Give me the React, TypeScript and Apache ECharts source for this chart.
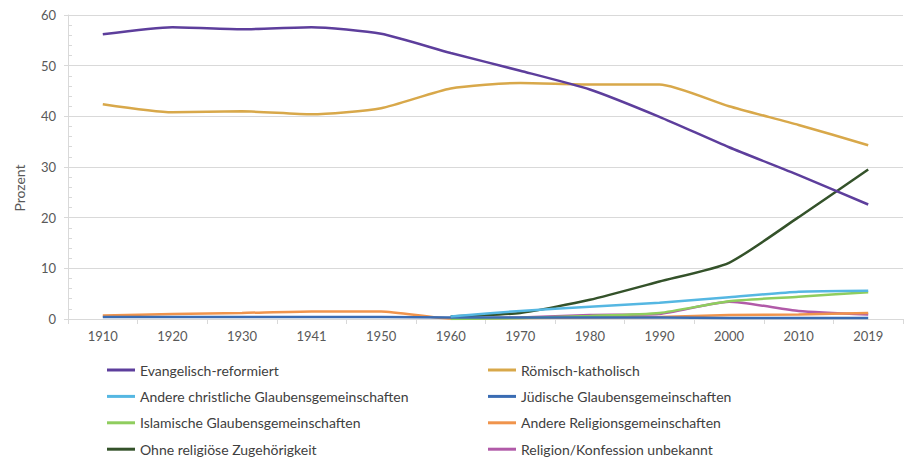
import React, { useEffect, useRef } from "react";
import * as echarts from "echarts";

const years = ["1910", "1920", "1930", "1941", "1950", "1960", "1970", "1980", "1990", "2000", "2010", "2019"];

const seriesNames = [
  "Evangelisch-reformiert",
  "Römisch-katholisch",
  "Andere christliche Glaubensgemeinschaften",
  "Jüdische Glaubensgemeinschaften",
  "Islamische Glaubensgemeinschaften",
  "Andere Religionsgemeinschaften",
  "Ohne religiöse Zugehörigkeit",
  "Religion/Konfession unbekannt",
];

const evangelisch = [56.2, 57.6, 57.2, 57.6, 56.3, 52.5, 49.0, 45.3, 39.9, 33.9, 28.4, 22.6];
const katholisch = [42.4, 40.8, 41.0, 40.4, 41.6, 45.5, 46.6, 46.3, 46.3, 42.0, 38.3, 34.3];
const andereChristlich = [null, null, null, null, null, 0.5, 1.6, 2.4, 3.2, 4.3, 5.4, 5.6];
const juedisch = [0.4, 0.4, 0.4, 0.4, 0.4, 0.3, 0.3, 0.3, 0.3, 0.2, 0.2, 0.2];
const islamisch = [null, null, null, null, null, 0.0, 0.2, 0.6, 1.2, 3.5, 4.4, 5.3];
const andereReligion = [0.7, 1.0, 1.2, 1.5, 1.5, 0.1, 0.2, 0.3, 0.4, 0.8, 0.9, 1.2];
const ohne = [null, null, null, null, null, 0.5, 1.2, 3.8, 7.4, 11.1, 20.1, 29.5];
const unbekannt = [null, null, null, null, null, 0.1, 0.3, 0.8, 1.0, 3.4, 1.6, 0.9];

const seriesData = [evangelisch, katholisch, andereChristlich, juedisch, islamisch, andereReligion, ohne, unbekannt];
const seriesColors = ["#5d3e9c", "#d8a84a", "#55b7e2", "#3a6cb3", "#8fcd5e", "#f0944c", "#34522a", "#b15aa8"];

const yTicks = { min: 0, max: 60, interval: 10 };

export default function App() {
  const ref = useRef<HTMLDivElement>(null);
  useEffect(() => {
    if (!ref.current) return;
    const chart = echarts.init(ref.current, undefined, { renderer: "svg" });
    const font = "Lato, 'Open Sans', sans-serif";
    const legendCommon = {
      orient: "vertical" as const,
      top: 362,
      height: 130,
      padding: 0,
      icon: "rect",
      itemWidth: 28,
      itemHeight: 3,
      itemGap: 10.4,
      textStyle: { fontFamily: font, fontSize: 14, color: "#404040", lineHeight: 16 },
      selectedMode: false,
    };
    chart.setOption({
      animation: false,
      backgroundColor: "#ffffff",
      grid: { left: 68, right: 4, top: 15, bottom: 141 },
      xAxis: {
        type: "category",
        data: years,
        boundaryGap: true,
        axisLine: { lineStyle: { color: "#d9d9d9", width: 1 } },
        axisTick: { show: true, length: 5, lineStyle: { color: "#d9d9d9" } },
        axisLabel: { fontFamily: font, fontSize: 13, color: "#595959", margin: 10 },
      },
      yAxis: [
        {
          type: "value",
          position: "left",
          min: yTicks.min,
          max: yTicks.max,
          interval: yTicks.interval,
          axisLine: { show: true, lineStyle: { color: "#d9d9d9" } },
          axisTick: { show: true, length: 4, lineStyle: { color: "#d9d9d9" } },
          axisLabel: { fontFamily: font, fontSize: 13, color: "#595959", margin: 12 },
          splitLine: { show: true, lineStyle: { color: "#d9d9d9", width: 1 } },
        },
        {
          type: "value",
          position: "left",
          min: yTicks.min,
          max: yTicks.max,
          interval: yTicks.interval,
          axisLine: { show: false },
          axisTick: { show: false, inside: true },
          axisLabel: { show: false },
          splitLine: { show: false },
          minorTick: { show: true, splitNumber: 5, length: 4, lineStyle: { color: "#d9d9d9" } },
        },
      ],
      legend: [
        { ...legendCommon, left: 107, data: [seriesNames[0], seriesNames[2], seriesNames[4], seriesNames[6]] },
        { ...legendCommon, left: 488, data: [seriesNames[1], seriesNames[3], seriesNames[5], seriesNames[7]] },
      ],
      graphic: [
        {
          type: "text",
          x: 12,
          y: 188,
          rotation: Math.PI / 2,
          style: {
            text: "Prozent",
            fontFamily: font,
            fontSize: 14,
            fill: "#595959",
            align: "center",
            verticalAlign: "top",
          },
        },
      ],
      series: seriesNames.map((name, i) => ({
        name,
        type: "line",
        data: seriesData[i],
        smooth: 0.2,
        symbol: "none",
        showSymbol: false,
        connectNulls: false,
        z: 10 - i,
        lineStyle: { color: seriesColors[i], width: 2.5 },
        itemStyle: { color: seriesColors[i] },
      })),
    });
    return () => chart.dispose();
  }, []);
  return <div ref={ref} style={{ position: "fixed", left: 0, top: 0, width: 907, height: 460 }} />;
}
